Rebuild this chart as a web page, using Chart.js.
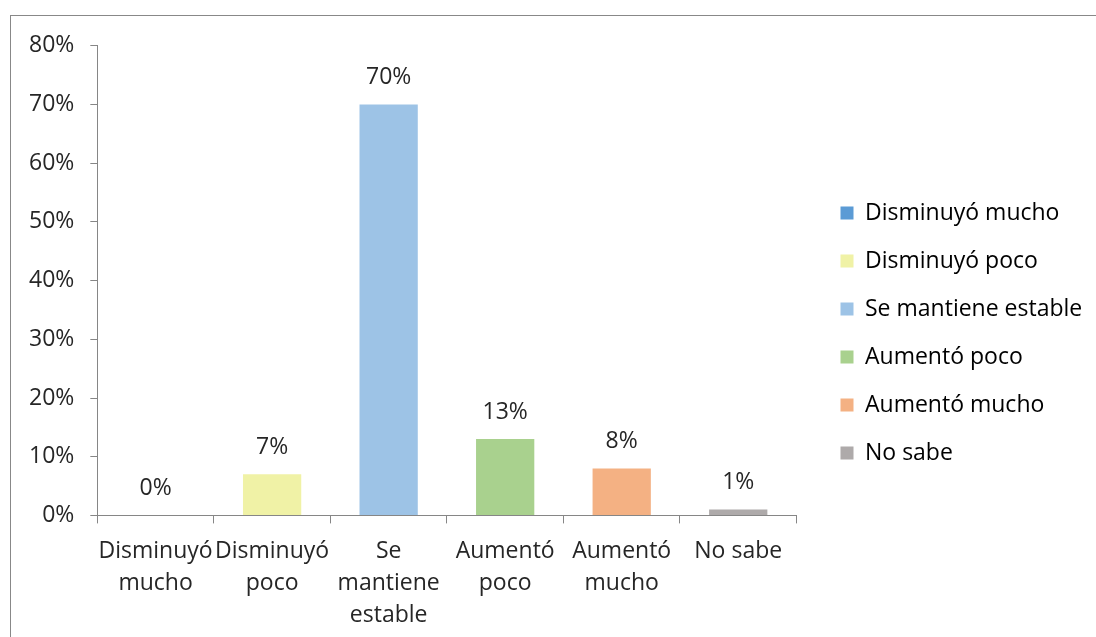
<!DOCTYPE html>
<html>
<head>
<meta charset="utf-8">
<script src="https://cdn.jsdelivr.net/npm/chart.js@4/dist/chart.umd.min.js"></script>
<style>
  body { margin: 0; background: #fff; }
  .frame {
    position: absolute;
    left: 10px;
    top: 15px;
    width: 1100px;
    height: 640px;
    border: 1px solid #888;
    box-sizing: border-box;
  }
  #chart { position: absolute; left: 0; top: 0; }
</style>
</head>
<body>
<div class="frame">
  <canvas id="chart" width="1086" height="622"></canvas>
</div>
<script>
const categories = [
  "Disminuyó mucho",
  "Disminuyó poco",
  "Se mantiene estable",
  "Aumentó poco",
  "Aumentó mucho",
  "No sabe",
];
const axisLabels = [
  ["Disminuyó", "mucho"],
  ["Disminuyó", "poco"],
  ["Se", "mantiene", "estable"],
  ["Aumentó", "poco"],
  ["Aumentó", "mucho"],
  ["No sabe"],
];
const percentages = [0, 7, 70, 13, 8, 1];
const colors = ["#5B9BD5", "#F0F2A6", "#9DC3E6", "#A9D18E", "#F4B183", "#AEAAAA"];

const FONT = "'Open Sans', Lato, sans-serif";
const SIZE = 23;
const TEXT = "#262626";
const AXIS = "#868686";
const LEGEND_GAP = 19;
const LEGEND_RAISE = 11;

// value labels above each bar
const valueLabels = {
  id: "valueLabels",
  afterDatasetsDraw(chart) {
    const ctx = chart.ctx;
    const meta = chart.getDatasetMeta(0);
    ctx.save();
    ctx.font = SIZE + "px " + FONT;
    ctx.fillStyle = TEXT;
    ctx.textAlign = "center";
    ctx.textBaseline = "middle";
    meta.data.forEach((bar, i) => {
      ctx.fillText(percentages[i] + "%", bar.x, bar.y - 27);
    });
    ctx.restore();
  },
};

// leave some empty room between the plot and the legend
const legendGap = {
  id: "legendGap",
  afterInit(chart) {
    const legend = chart.legend;
    const fit = legend.fit.bind(legend);
    const draw = legend.draw.bind(legend);
    legend.fit = () => {
      fit();
      legend.width += LEGEND_GAP;
    };
    legend.draw = () => {
      legend.left += LEGEND_GAP;
      legend.top -= LEGEND_RAISE;
      legend.bottom -= LEGEND_RAISE;
      draw();
      legend.left -= LEGEND_GAP;
      legend.top += LEGEND_RAISE;
      legend.bottom += LEGEND_RAISE;
    };
  },
};

new Chart(document.querySelector("#chart"), {
  type: "bar",
  data: {
    labels: axisLabels,
    datasets: [
      {
        data: percentages,
        backgroundColor: colors,
        borderWidth: 0,
        barPercentage: 0.5,
        categoryPercentage: 1,
      },
    ],
  },
  options: {
    responsive: false,
    animation: false,
    layout: { padding: { top: 28, left: 2, right: 14, bottom: -6 } },
    plugins: {
      tooltip: { enabled: false },
      legend: {
        position: "right",
        labels: {
          font: { family: FONT, size: SIZE },
          color: TEXT,
          boxWidth: 13,
          boxHeight: 13,
          padding: 25,
          generateLabels: () =>
            categories.map((c, i) => ({
              text: c,
              fillStyle: colors[i],
              strokeStyle: colors[i],
              lineWidth: 0,
              index: i,
            })),
        },
      },
    },
    scales: {
      y: {
        min: 0,
        max: 80,
        ticks: {
          stepSize: 10,
          font: { family: FONT, size: SIZE },
          color: TEXT,
          padding: 16,
          callback: (v) => v + "%",
        },
        grid: {
          drawOnChartArea: false,
          tickLength: 7,
          color: AXIS,
        },
        border: { color: AXIS },
      },
      x: {
        ticks: {
          font: { family: FONT, size: SIZE, lineHeight: 1.4 },
          color: TEXT,
          maxRotation: 0,
          autoSkip: false,
          padding: 12,
        },
        grid: {
          offset: true,
          drawOnChartArea: false,
          tickLength: 8,
          color: AXIS,
        },
        border: { color: AXIS },
      },
    },
  },
  plugins: [valueLabels, legendGap],
});
</script>
</body>
</html>
